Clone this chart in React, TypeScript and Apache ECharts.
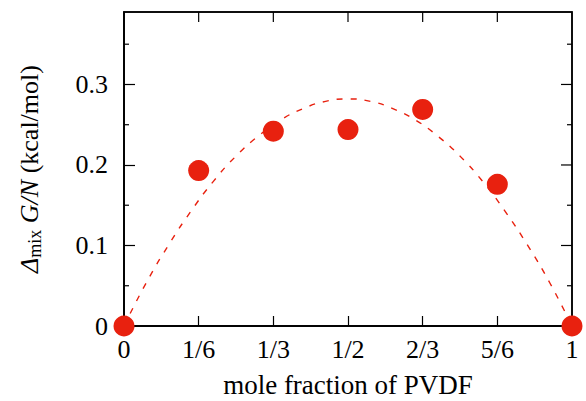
import React, { useEffect, useRef } from "react";
import * as echarts from "echarts";

const xTickLabels = ["0", "1/6", "1/3", "1/2", "2/3", "5/6", "1"];
const xTickValues = [1 / 6, 1 / 3, 1 / 2, 2 / 3, 5 / 6];
const yMajorValues = [0.1, 0.2, 0.3];
const yMinorValues = [0.05, 0.15, 0.25, 0.35];
const pointX = [0, 1 / 6, 1 / 3, 1 / 2, 2 / 3, 5 / 6, 1];
const pointY = [0, 0.193, 0.242, 0.244, 0.269, 0.176, 0];
const curveX = [0, 0.05, 0.1, 0.15, 0.2, 0.25, 0.3, 0.35, 0.4, 0.45, 0.5, 0.55, 0.6, 0.65, 0.7, 0.75, 0.8, 0.85, 0.9, 0.95, 1];
const curveY = [0, 0.054, 0.101, 0.143, 0.18, 0.211, 0.236, 0.256, 0.27, 0.279, 0.282, 0.279, 0.27, 0.256, 0.236, 0.211, 0.18, 0.143, 0.101, 0.054, 0];

const FONT = "'Liberation Serif', 'Times New Roman', serif";
const RED = "#e8210f";

// kinds: 0 = top x tick, 1 = right major y tick, 2 = left minor y tick, 3 = right minor y tick, 4 = frame
const mirrorTicks: number[][] = [
  [0, 0, 4],
  ...xTickValues.map((v) => [v, 0, 0]),
  ...yMajorValues.map((v) => [0, v, 1]),
  ...yMinorValues.map((v) => [0, v, 2]),
  ...yMinorValues.map((v) => [0, v, 3]),
];

export default function App() {
  const ref = useRef<HTMLDivElement>(null);
  useEffect(() => {
    if (!ref.current) return;
    const chart = echarts.init(ref.current, null, { renderer: "svg" });
    chart.setOption({
      animation: false,
      backgroundColor: "#fff",
      grid: {
        left: 124, right: 14, top: 12, bottom: 75,
        show: true, borderColor: "#000", borderWidth: 1.5, backgroundColor: "transparent",
        containLabel: false, outerBoundsMode: "none",
      },
      xAxis: {
        type: "value", min: 0, max: 1, interval: 1 / 6,
        axisLine: { show: true, onZero: false, lineStyle: { color: "#000", width: 1.5 } },
        axisTick: { show: true, inside: true, length: 10, lineStyle: { color: "#000", width: 1.2 } },
        splitLine: { show: false },
        axisLabel: {
          margin: 10, color: "#000", fontFamily: FONT, fontSize: 26,
          formatter: (v: number) => xTickLabels[Math.round(v * 6)] ?? "",
        },
        name: "mole fraction of PVDF", nameLocation: "middle", nameGap: 45,
        nameTextStyle: { color: "#000", fontFamily: FONT, fontSize: 27 },
      },
      yAxis: {
        type: "value", min: 0, max: 0.39, interval: 0.1,
        axisLine: { show: true, onZero: false, lineStyle: { color: "#000", width: 1.5 } },
        axisTick: { show: true, inside: true, length: 11, lineStyle: { color: "#000", width: 1.2 } },
        splitLine: { show: false },
        axisLabel: {
          margin: 16, color: "#000", fontFamily: FONT, fontSize: 26, showMaxLabel: false,
          formatter: (v: number) => (v === 0 ? "0" : v.toFixed(1)),
        },
        name: "{d|Δ}{s|mix}{i| G/N} {n|(kcal/mol)}",
        nameLocation: "middle", nameRotate: 90, nameGap: 80,
        nameTextStyle: {
          color: "#000", fontFamily: FONT, fontSize: 26,
          rich: {
            d: { fontFamily: FONT, fontSize: 26, fontStyle: "italic", color: "#000", lineHeight: 30 },
            s: { fontFamily: FONT, fontSize: 18, color: "#000", verticalAlign: "bottom", lineHeight: 18, padding: [12, 0, 0, 0] },
            i: { fontFamily: FONT, fontSize: 26, fontStyle: "italic", color: "#000", lineHeight: 30 },
            n: { fontFamily: FONT, fontSize: 26, color: "#000", lineHeight: 30 },
          },
        },
      },
      series: [
        {
          type: "custom",
          silent: true,
          clip: false,
          z: 4,
          data: mirrorTicks,
          renderItem: (params: any, api: any) => {
            const cs = params.coordSys;
            const kind = api.value(2);
            const right = cs.x + cs.width;
            if (kind === 4) {
              return {
                type: "rect",
                shape: { x: cs.x, y: cs.y, width: cs.width, height: cs.height },
                style: { fill: "none", stroke: "#000", lineWidth: 1.5 },
              };
            }
            const pt = api.coord([api.value(0), api.value(1)]);
            let shape;
            if (kind === 0) shape = { x1: pt[0], y1: cs.y, x2: pt[0], y2: cs.y + 10 };
            else if (kind === 1) shape = { x1: right, y1: pt[1], x2: right - 11, y2: pt[1] };
            else if (kind === 2) shape = { x1: cs.x, y1: pt[1], x2: cs.x + 5, y2: pt[1] };
            else shape = { x1: right, y1: pt[1], x2: right - 5, y2: pt[1] };
            return { type: "line", shape, style: { stroke: "#000", lineWidth: 1.2 } };
          },
        },
        {
          type: "line",
          data: curveX.map((x, i) => [x, curveY[i]]),
          smooth: true, showSymbol: false, symbol: "none",
          lineStyle: { color: RED, width: 1.4, type: [6, 8] },
          z: 2,
        },
        {
          type: "scatter",
          data: pointX.map((x, i) => [x, pointY[i]]),
          symbolSize: 21,
          itemStyle: { color: RED, opacity: 1 },
          clip: false,
          z: 5,
        },
      ],
    });
    return () => chart.dispose();
  }, []);
  return <div ref={ref} style={{ width: 586, height: 401, position: "absolute", left: 0, top: 0 }} />;
}
